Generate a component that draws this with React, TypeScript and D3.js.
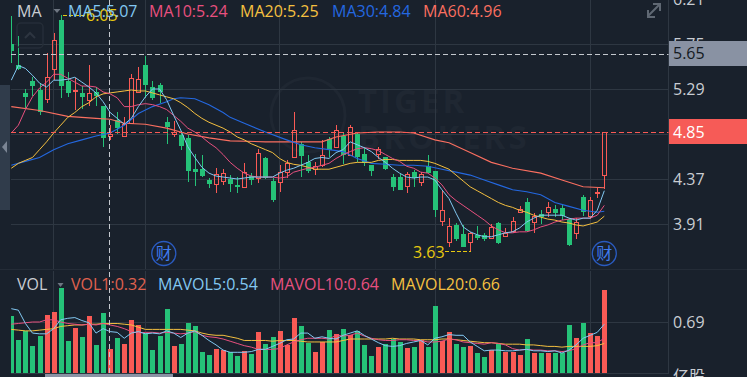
import React from "react";
import * as d3 from "d3";

const opens = [5.75,5.54,5.25,5.37,5.28,5.19,5.49,6.00,5.37,5.27,5.25,5.18,5.26,5.12,4.81,4.97,4.81,4.94,5.26,5.54,5.31,5.33,4.95,4.83,4.82,4.79,4.47,4.47,4.36,4.32,4.35,4.37,4.31,4.29,4.40,4.38,4.58,4.35,4.34,4.44,4.59,4.73,4.54,4.47,4.51,4.78,4.70,4.81,4.62,4.83,4.63,4.51,4.63,4.59,4.39,4.39,4.30,4.44,4.34,4.50,4.45,3.94,3.73,3.90,3.81,3.73,3.80,3.80,3.77,3.92,3.79,3.84,4.03,4.13,3.93,4.01,4.03,4.06,4.07,3.96,3.82,4.19,3.99,4.23,4.41];
const closes = [5.68,5.49,5.21,5.32,5.06,5.41,5.79,5.32,5.25,5.28,5.21,5.25,5.22,4.79,4.83,4.89,4.93,5.40,5.39,5.33,5.20,5.26,4.90,4.85,4.71,4.45,4.44,4.40,4.32,4.42,4.43,4.32,4.29,4.44,4.36,4.64,4.38,4.16,4.44,4.53,4.87,4.61,4.45,4.50,4.62,4.67,4.87,4.62,4.90,4.59,4.53,4.45,4.68,4.47,4.29,4.26,4.42,4.38,4.42,4.43,4.05,4.05,3.89,3.76,3.67,3.82,3.77,3.76,3.88,3.72,3.82,3.94,4.06,3.84,3.99,3.98,4.08,4.02,3.99,3.70,3.93,4.03,4.16,4.24,4.85];
const highs = [6.04,5.83,5.29,5.41,5.35,5.66,5.86,6.05,5.46,5.40,5.32,5.54,5.31,5.12,4.92,5.05,5.00,5.44,5.52,5.63,5.37,5.35,5.00,4.96,4.86,4.82,4.63,4.62,4.38,4.48,4.47,4.41,4.39,4.53,4.43,4.68,4.60,4.38,4.51,4.56,5.05,4.75,4.62,4.54,4.77,4.80,4.92,4.84,4.92,4.85,4.70,4.51,4.70,4.60,4.42,4.42,4.44,4.46,4.44,4.62,4.45,4.25,3.97,3.92,3.90,3.83,3.89,3.82,3.91,3.93,3.87,3.98,4.09,4.18,4.02,4.05,4.13,4.10,4.10,3.97,3.97,4.21,4.19,4.28,4.85];
const lows = [5.56,5.48,5.10,5.22,5.02,5.15,5.38,5.20,5.21,5.08,5.09,5.12,5.12,4.70,4.77,4.83,4.80,4.93,5.25,5.20,5.18,5.15,4.73,4.80,4.67,4.34,4.30,4.39,4.28,4.23,4.31,4.24,4.23,4.28,4.31,4.33,4.37,4.14,4.24,4.38,4.59,4.39,4.43,4.41,4.49,4.60,4.70,4.52,4.61,4.54,4.50,4.40,4.57,4.46,4.25,4.26,4.23,4.29,4.30,4.43,3.98,3.89,3.67,3.74,3.67,3.63,3.75,3.74,3.76,3.71,3.78,3.82,4.02,3.83,3.82,3.91,3.98,3.98,3.95,3.69,3.76,3.99,3.96,4.18,4.27];
const volumes = [0.77,0.45,0.57,0.37,0.50,0.78,0.83,1.15,0.43,0.61,0.49,0.77,0.38,0.81,0.32,0.47,0.39,0.72,0.65,0.54,0.31,0.50,0.87,0.37,0.39,0.68,0.64,0.28,0.24,0.32,0.31,0.28,0.23,0.30,0.26,0.55,0.39,0.49,0.57,0.38,0.74,0.64,0.41,0.29,0.42,0.58,0.53,0.60,0.51,0.57,0.38,0.23,0.35,0.39,0.46,0.42,0.34,0.35,0.45,0.35,0.91,0.43,0.55,0.39,0.35,0.37,0.27,0.22,0.31,0.39,0.28,0.28,0.24,0.46,0.27,0.27,0.27,0.27,0.27,0.65,0.47,0.68,0.54,0.50,1.12];

const ma5 = [5.38,5.53,5.50,5.43,5.35,5.31,5.38,5.38,5.39,5.41,5.36,5.31,5.25,5.16,5.05,4.99,4.93,4.99,5.11,5.21,5.29,5.29,5.18,5.02,4.87,4.70,4.59,4.49,4.43,4.40,4.39,4.38,4.37,4.38,4.39,4.39,4.39,4.39,4.43,4.46,4.48,4.51,4.54,4.58,4.59,4.58,4.64,4.67,4.75,4.72,4.69,4.65,4.59,4.54,4.48,4.43,4.39,4.38,4.39,4.39,4.36,4.26,4.17,4.02,3.88,3.83,3.80,3.78,3.78,3.80,3.82,3.83,3.87,3.93,3.97,4.00,4.00,4.00,4.00,3.97,3.95,3.97,3.97,4.05,4.25];
const ma10 = [4.84,4.92,5.08,5.21,5.30,5.36,5.44,5.44,5.40,5.36,5.32,5.32,5.31,5.26,5.24,5.20,5.11,5.11,5.13,5.14,5.13,5.11,5.08,5.02,4.96,4.89,4.85,4.80,4.74,4.69,4.62,4.54,4.48,4.43,4.40,4.39,4.39,4.39,4.38,4.39,4.44,4.46,4.48,4.49,4.51,4.53,4.58,4.62,4.65,4.68,4.69,4.68,4.66,4.62,4.58,4.55,4.50,4.48,4.44,4.43,4.38,4.31,4.21,4.15,4.10,4.05,4.00,3.95,3.89,3.85,3.82,3.82,3.83,3.83,3.85,3.88,3.90,3.93,3.95,3.96,3.97,3.97,3.97,4.00,4.10];
const ma20 = [4.48,4.53,4.56,4.59,4.67,4.75,4.84,4.92,5.00,5.05,5.11,5.15,5.21,5.24,5.25,5.26,5.27,5.28,5.27,5.27,5.25,5.23,5.21,5.19,5.15,5.10,5.04,4.99,4.95,4.92,4.89,4.85,4.80,4.77,4.73,4.70,4.67,4.64,4.58,4.54,4.52,4.51,4.49,4.47,4.47,4.47,4.49,4.51,4.53,4.54,4.54,4.54,4.56,4.57,4.57,4.56,4.56,4.56,4.56,4.55,4.53,4.50,4.47,4.41,4.35,4.29,4.25,4.21,4.17,4.13,4.10,4.08,4.05,4.03,4.00,3.98,3.96,3.95,3.93,3.92,3.90,3.89,3.91,3.93,3.99];
const ma30Index = [0,2,4,6,8,10,12,14,16,18,20,22,23,24,26,28,30,31,33,36,39,41,43,45,47,49,51,53,55,57,59,61,63,65,67,69,71,73,75,77,79,81,83,84];
const ma30 = [4.51,4.55,4.59,4.67,4.73,4.77,4.81,4.84,4.92,5.04,5.11,5.16,5.19,5.20,5.19,5.13,5.05,5.00,4.94,4.85,4.77,4.72,4.69,4.67,4.65,4.58,4.53,4.52,4.51,4.51,4.50,4.47,4.44,4.41,4.36,4.31,4.26,4.24,4.21,4.13,4.09,4.05,4.03,4.04];
const ma60Index = [0,4,8,12,14,16,19,22,25,28,31,36,41,44,46,49,52,55,57,60,62,65,68,71,75,78,81,84];
const ma60 = [5.11,5.07,5.01,4.99,4.98,4.94,4.93,4.89,4.83,4.79,4.76,4.75,4.75,4.75,4.80,4.84,4.85,4.85,4.84,4.77,4.74,4.64,4.54,4.48,4.43,4.36,4.29,4.28];

const mavol5 = [.87,.85,.67,.54,.53,.53,.60,.72,.74,.75,.71,.68,.54,.60,.56,.55,.47,.54,.56,.53,.54,.53,.57,.54,.48,.54,.57,.51,.44,.38,.31,.28,.28,.28,.29,.32,.32,.36,.40,.45,.46,.54,.54,.47,.49,.47,.46,.51,.54,.57,.51,.46,.41,.37,.36,.37,.40,.42,.44,.38,.47,.49,.52,.51,.51,.42,.36,.30,.31,.31,.30,.30,.31,.32,.30,.30,.29,.30,.27,.31,.38,.47,.51,.55,.66];
const mavol10 = [.66,.67,.68,.69,.69,.72,.72,.69,.67,.66,.65,.66,.65,.67,.65,.63,.60,.56,.54,.55,.55,.54,.55,.54,.53,.54,.56,.51,.49,.48,.46,.43,.40,.37,.35,.32,.32,.32,.33,.38,.42,.45,.47,.47,.47,.46,.51,.50,.51,.54,.50,.47,.45,.44,.44,.45,.45,.44,.44,.42,.42,.43,.46,.45,.42,.41,.40,.39,.41,.40,.38,.33,.31,.32,.31,.31,.30,.30,.29,.30,.33,.38,.41,.41,.47];
const mavol20 = [.59,.58,.57,.57,.58,.59,.60,.63,.64,.65,.65,.66,.66,.67,.67,.67,.66,.65,.62,.59,.59,.59,.59,.59,.59,.58,.57,.54,.52,.51,.51,.49,.47,.44,.44,.44,.44,.43,.44,.44,.44,.43,.42,.42,.42,.42,.42,.44,.46,.46,.46,.46,.46,.46,.47,.46,.46,.46,.45,.45,.45,.46,.46,.45,.44,.43,.42,.41,.41,.40,.39,.39,.39,.38,.38,.37,.36,.36,.35,.36,.36,.36,.36,.37,.40];

const priceTicks = [6.21, 5.75, 5.29, 4.37, 3.91];
const priceGrid = [5.75, 5.29, 4.83, 4.37, 3.91];
const gridDays = [5.9, 18.94, 37.92, 60.02, 82];
const maLegend = ["MA5:5.07", "MA10:5.24", "MA20:5.25", "MA30:4.84", "MA60:4.96"];
const volLegend = ["VOL1:0.32", "MAVOL5:0.54", "MAVOL10:0.64", "MAVOL20:0.66"];
const lastPrice = 4.85;
const crossPrice = 5.65;
const crossDay = 14;
const highPrice = 6.05;
const highDay = 7;
const lowPrice = 3.63;
const lowDay = 65;
const volTick = 0.69;
const earningsDays = [21.6, 84];

const BG = "#19212c";
const GRID = "#2e3742";
const UP = "#f95a55";
const DOWN = "#25c278";
const C5 = "#82c8f2";
const C10 = "#e8507f";
const C20 = "#f5c040";
const C30 = "#2468e0";
const C60 = "#fb6f60";
const TXT = "#c9cdd3";
const FONT = "'Open Sans', 'Noto Sans', sans-serif";

const W = 747, H = 377, LEFT = 11, RIGHT = 668.5;
const x = d3.scaleLinear().domain([0, 84]).range([11.3, 604.3]);
const y = d3.scaleLinear().domain([5.29, 3.91]).range([89, 224]);
const yv = d3.scaleLinear().domain([0, volTick]).range([373, 322]);
const px = (i: number) => Math.round(x(i));
const pl = d3.line<number>().x((_, i) => x(i)).y((d) => y(d));
const sparse = (idx: number[]) => d3.line<number>().x((_, i) => x(idx[i])).y((d) => y(d));
const vl = d3.line<number>().x((_, i) => x(i)).y((d) => yv(d));

export default function App() {
  const days = d3.range(opens.length);
  const legendX = [68, 149, 240, 332, 423];
  const legendC = [C5, C10, C20, C30, C60];
  const vlegX = [71, 158, 270, 391];
  const vlegC = ["#e0614f", C5, C10, C20];
  return (
    <svg width={W} height={H} style={{ position: "absolute", left: 0, top: 0, display: "block", background: BG, fontFamily: FONT }}>
      <defs>
        <clipPath id="plot"><rect x={LEFT} y={0} width={RIGHT - LEFT} height={270} /></clipPath>
        <clipPath id="vplot"><rect x={LEFT} y={271} width={RIGHT - LEFT} height={103} /></clipPath>
      </defs>

      {/* watermark */}
      <g fill="#1f2732" stroke="none">
        <circle cx={308} cy={115} r={37} fill="none" stroke="#1f2732" strokeWidth={3} />
        <text x={358} y={113} fontSize={33} fontWeight={700} letterSpacing={3}>TIGER</text>
        <text x={358} y={149} fontSize={33} fontWeight={700} letterSpacing={3}>BROKERS</text>
      </g>

      {/* grid */}
      <g stroke={GRID} strokeWidth={1}>
        {priceGrid.map((p) => <line key={p} x1={LEFT} x2={RIGHT} y1={Math.round(y(p)) + 0.5} y2={Math.round(y(p)) + 0.5} />)}
        {gridDays.map((d) => (
          <g key={d}>
            <line x1={px(d) + 0.5} x2={px(d) + 0.5} y1={0} y2={269} />
            <line x1={px(d) + 0.5} x2={px(d) + 0.5} y1={271} y2={373} />
          </g>
        ))}
        <line x1={RIGHT} x2={RIGHT} y1={0} y2={374} />
        <line x1={0} x2={W} y1={269.5} y2={269.5} stroke="#242c37" />
        <line x1={LEFT} x2={RIGHT} y1={Math.round(yv(volTick)) + 0.5} y2={Math.round(yv(volTick)) + 0.5} />
        <line x1={LEFT} x2={RIGHT} y1={373.5} y2={373.5} />
      </g>

      {/* candles */}
      <g clipPath="url(#plot)">
        {days.map((i) => {
          const up = closes[i] >= opens[i];
          const c = up ? UP : DOWN;
          const cx = px(i);
          const top = Math.round(y(Math.max(opens[i], closes[i])));
          const bot = Math.round(y(Math.min(opens[i], closes[i])));
          const hi = Math.round(y(highs[i]));
          const lo = Math.round(y(lows[i]));
          return up ? (
            <g key={i} stroke={c} strokeWidth={1} fill="none">
              <line x1={cx + 0.5} x2={cx + 0.5} y1={hi} y2={top} />
              <line x1={cx + 0.5} x2={cx + 0.5} y1={bot} y2={lo} />
              <rect x={cx - 1.5} y={top + 0.5} width={4} height={Math.max(bot - top, 1)} />
            </g>
          ) : (
            <g key={i}>
              <line x1={cx + 0.5} x2={cx + 0.5} y1={hi} y2={lo} stroke={c} strokeWidth={1} />
              <rect x={cx - 2} y={top} width={5} height={Math.max(bot - top, 1)} fill={c} />
            </g>
          );
        })}
        <path d={sparse(ma60Index)(ma60)!} fill="none" stroke={C60} strokeWidth={1.1} />
        <path d={sparse(ma30Index)(ma30)!} fill="none" stroke={C30} strokeWidth={1.1} />
        <path d={pl(ma20)!} fill="none" stroke={C20} strokeWidth={1} />
        <path d={pl(ma10)!} fill="none" stroke={C10} strokeWidth={1} />
        <path d={pl(ma5)!} fill="none" stroke={C5} strokeWidth={1} />
      </g>

      {/* volume */}
      <g clipPath="url(#vplot)">
        {days.map((i) => (
          <rect key={i} x={px(i) - 2} y={Math.round(yv(volumes[i]))} width={5} height={373 - Math.round(yv(volumes[i]))} fill={closes[i] >= opens[i] ? UP : DOWN} />
        ))}
        <path d={vl(mavol20)!} fill="none" stroke={C20} strokeWidth={1} />
        <path d={vl(mavol10)!} fill="none" stroke={C10} strokeWidth={1} />
        <path d={vl(mavol5)!} fill="none" stroke={C5} strokeWidth={1} />
      </g>

      {/* reference lines */}
      <line x1={LEFT} x2={RIGHT} y1={Math.round(y(lastPrice)) + 0.5} y2={Math.round(y(lastPrice)) + 0.5} stroke={UP} strokeDasharray="5 3" />
      <line x1={LEFT} x2={RIGHT} y1={Math.round(y(crossPrice)) + 0.5} y2={Math.round(y(crossPrice)) + 0.5} stroke="#c4c8ce" strokeDasharray="5 3" />
      <line x1={px(crossDay) - 0.5} x2={px(crossDay) - 0.5} y1={0} y2={374} stroke="#c4c8ce" strokeDasharray="5 3" />

      {/* high / low marks */}
      <line x1={px(highDay) + 2} x2={85} y1={Math.round(y(highPrice)) + 0.5} y2={Math.round(y(highPrice)) + 0.5} stroke="#e8c910" strokeDasharray="4 2" />
      <text x={86} y={21} fontSize={16} fill="#e8c910">{highPrice.toFixed(2)}</text>
      <text x={413} y={258} fontSize={16} fill="#e8c910">{lowPrice.toFixed(2)}</text>
      <line x1={445} x2={px(lowDay) + 1} y1={Math.round(y(lowPrice)) + 0.5} y2={Math.round(y(lowPrice)) + 0.5} stroke="#e8c910" strokeDasharray="4 2" />

      {/* legends */}
      <text x={17} y={17} fontSize={16} fill={TXT}>MA</text>
      <path d="M53.5 9 L60.5 9 L57 13 Z" fill="#6e7682" />
      {maLegend.map((t, i) => <text key={t} x={legendX[i]} y={17} fontSize={16} fill={legendC[i]}>{t}</text>)}
      <text x={17} y={290} fontSize={16} fill={TXT}>VOL</text>
      <path d="M57.5 283 L63.5 283 L60.5 287 Z" fill="#6e7682" />
      {volLegend.map((t, i) => <text key={t} x={vlegX[i]} y={290} fontSize={16} fill={vlegC[i]}>{t}</text>)}

      {/* price axis */}
      {priceTicks.map((p) => <text key={p} x={673} y={y(p) + 5.5} fontSize={16} fill={TXT}>{p.toFixed(2)}</text>)}
      <rect x={669} y={41} width={78} height={25} fill="#8992a3" />
      <text x={673} y={59} fontSize={16} fill="#141a22">{crossPrice.toFixed(2)}</text>
      <rect x={669} y={119} width={78} height={25} fill="#f65b57" />
      <text x={673} y={138} fontSize={16} fill="#ffffff">{lastPrice.toFixed(2)}</text>
      <text x={673} y={yv(volTick) + 5.5} fontSize={16} fill={TXT}>{volTick.toFixed(2)}</text>
      <text x={673} y={382} fontSize={16} fill={TXT} fontFamily="'Noto Sans CJK SC'">亿股</text>

      {/* earnings badges */}
      {earningsDays.map((d) => (
        <g key={d}>
          <circle cx={x(d)} cy={253.5} r={12} fill="none" stroke="#2a5bc0" strokeWidth={1.3} />
          <text x={x(d)} y={259} textAnchor="middle" fontSize={16} fill="#3f7cf0" fontFamily="'Noto Sans CJK SC'">财</text>
        </g>
      ))}

      {/* controls */}
      <rect x={17} y={23} width={26} height={25} rx={4} fill="none" stroke="#252d38" strokeWidth={1.5} />
      <path d="M25 38 L30 33 L35 38" fill="none" stroke="#2d3540" strokeWidth={2} />
      <rect x={0} y={85} width={10} height={125} fill="#303c4b" />
      <path d="M7 141 L2 147 L7 153 Z" fill="#7b8594" />
      <rect x={45} y={374} width={128} height={3} fill="#8a93a4" />
      <g fill="none" stroke="#5f6873" strokeWidth={2}>
        <path d="M647.5 16.5 L659.5 4.5 M653 4 L660 4 L660 11 M648 10 L648 17 L655 17" />
      </g>
    </svg>
  );
}
